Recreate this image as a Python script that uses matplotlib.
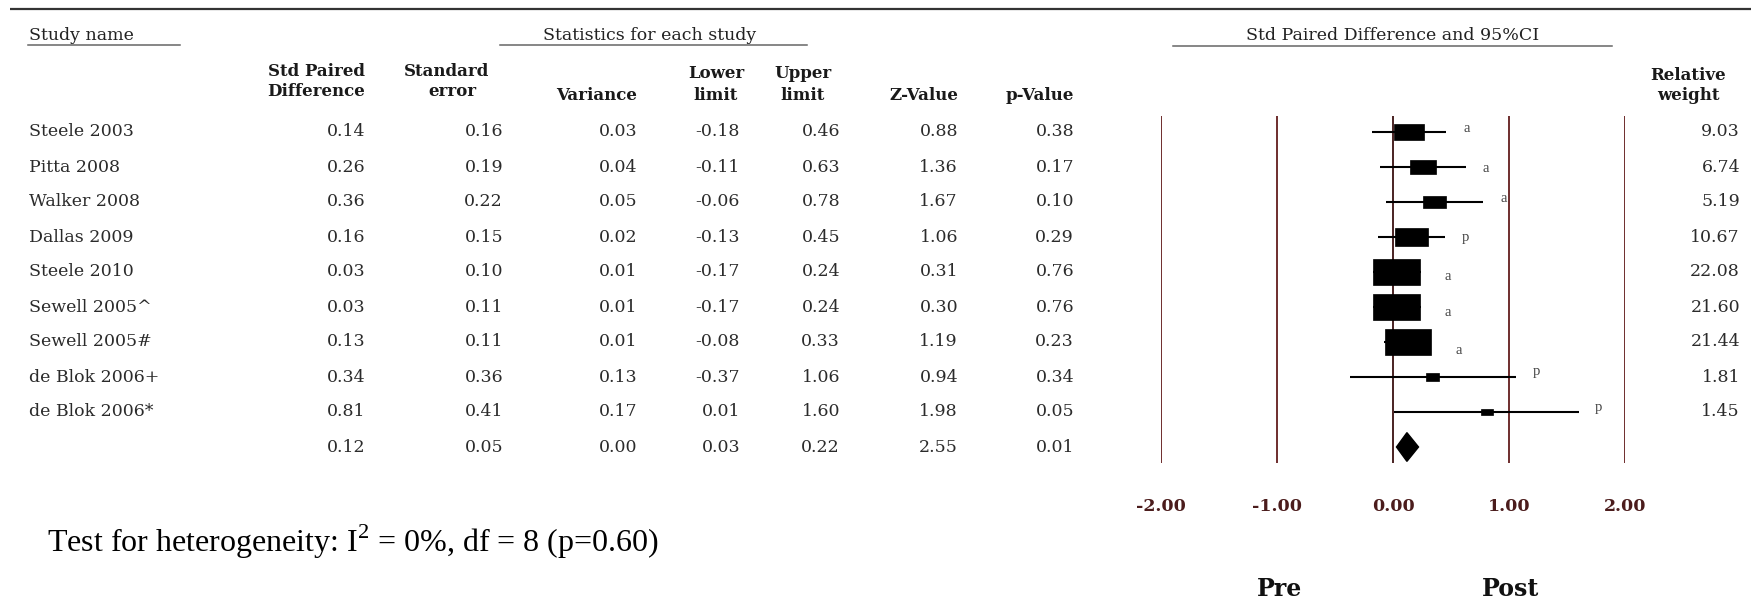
import numpy as np
import matplotlib
matplotlib.use("Agg")
import matplotlib.pyplot as plt
from matplotlib.patches import Rectangle, Polygon

plt.rcParams['mathtext.fontset'] = 'custom'
plt.rcParams['mathtext.rm'] = 'Liberation Serif'

# ---- data ----
studies = ['Steele 2003', 'Pitta 2008', 'Walker 2008', 'Dallas 2009', 'Steele 2010',
           'Sewell 2005^', 'Sewell 2005#', 'de Blok 2006+', 'de Blok 2006*']
spd = [0.14, 0.26, 0.36, 0.16, 0.03, 0.03, 0.13, 0.34, 0.81]
std_err = [0.16, 0.19, 0.22, 0.15, 0.10, 0.11, 0.11, 0.36, 0.41]
variance = [0.03, 0.04, 0.05, 0.02, 0.01, 0.01, 0.01, 0.13, 0.17]
lower = [-0.18, -0.11, -0.06, -0.13, -0.17, -0.17, -0.08, -0.37, 0.01]
upper = [0.46, 0.63, 0.78, 0.45, 0.24, 0.24, 0.33, 1.06, 1.60]
z_value = [0.88, 1.36, 1.67, 1.06, 0.31, 0.30, 1.19, 0.94, 1.98]
p_value = [0.38, 0.17, 0.10, 0.29, 0.76, 0.76, 0.23, 0.34, 0.05]
rel_weight = [9.03, 6.74, 5.19, 10.67, 22.08, 21.60, 21.44, 1.81, 1.45]
design = ['a', 'a', 'a', 'p', 'a', 'a', 'a', 'p', 'p']

# pooled row: spd, se, var, lower, upper, z, p
pooled = [0.12, 0.05, 0.00, 0.03, 0.22, 2.55, 0.01]

x_ticks = [-2, -1, 0, 1, 2]
heterogeneity = r'Test for heterogeneity: $\mathrm{I}^{2}$ = 0%, df = 8 (p=0.60)'

# ---- layout (pixels) ----
W, H = 1751, 605
row0, row_h = 132, 35
forest_left, forest_right = 1161, 1625
forest_top, forest_bottom = 116, 463

fig = plt.figure(figsize=(W / 100, H / 100), dpi=100)
ax = fig.add_axes([0, 0, 1, 1])
ax.set_xlim(0, W)
ax.set_ylim(H, 0)
ax.axis('off')

serif = 'DejaVu Serif'
val_kw = dict(family=serif, fontsize=12.5, color='#2b2b2b', va='center')
head_kw = dict(family=serif, fontsize=12, fontweight='bold', color='#1a1a1a', va='center')
title_kw = dict(family=serif, fontsize=12.5, color='#222222', va='center')

# top rule
ax.plot([10, W], [9, 9], color='#333333', lw=1.6, solid_capstyle='butt')

# section titles with underlines
ax.text(29, 35, 'Study name', ha='left', **title_kw)
ax.plot([28, 180], [45, 45], color='#666666', lw=1.1)
ax.text(650, 35, 'Statistics for each study', ha='center', **title_kw)
ax.plot([500, 807], [45, 45], color='#666666', lw=1.1)
ax.text(1393, 35, 'Std Paired Difference and 95%CI', ha='center', **title_kw)
ax.plot([1173, 1612], [46, 46], color='#666666', lw=1.1)

# column headers
ax.text(365, 72, 'Std Paired', ha='right', **head_kw)
ax.text(365, 91, 'Difference', ha='right', **head_kw)
ax.text(447, 72, 'Standard', ha='center', **head_kw)
ax.text(452, 92, 'error', ha='center', **head_kw)
ax.text(637, 95, 'Variance', ha='right', **head_kw)
ax.text(716, 74, 'Lower', ha='center', **head_kw)
ax.text(716, 95, 'limit', ha='center', **head_kw)
ax.text(803, 74, 'Upper', ha='center', **head_kw)
ax.text(803, 95, 'limit', ha='center', **head_kw)
ax.text(958, 95, 'Z-Value', ha='right', **head_kw)
ax.text(1074, 95, 'p-Value', ha='right', **head_kw)
ax.text(1688, 75, 'Relative', ha='center', **head_kw)
ax.text(1688, 95, 'weight', ha='center', **head_kw)

col_right = [365, 503, 637, 740, 840, 958, 1074]
columns = [spd, std_err, variance, lower, upper, z_value, p_value]

for i, name in enumerate(studies):
    y = row0 + i * row_h
    ax.text(29, y, name, ha='left', **val_kw)
    for xr, col in zip(col_right, columns):
        ax.text(xr, y, f'{col[i]:.2f}', ha='right', **val_kw)
    ax.text(1740, y, f'{rel_weight[i]:.2f}', ha='right', **val_kw)

y_pool = row0 + len(studies) * row_h
for xr, v in zip(col_right, pooled):
    ax.text(xr, y_pool, f'{v:.2f}', ha='right', **val_kw)

ax.text(47, 542, heterogeneity, ha='left', va='center',
        family='Liberation Serif', fontsize=23, color='black')

# ---- forest panel ----
fx = fig.add_axes([forest_left / W, 1 - forest_bottom / H,
                   (forest_right - forest_left) / W, (forest_bottom - forest_top) / H])
fx.set_xlim(-2, 2)
fx.set_ylim((forest_bottom - row0) / row_h, (forest_top - row0) / row_h)
for s in fx.spines.values():
    s.set_visible(False)
fx.set_yticks([])
fx.set_xticks(x_ticks)
fx.set_xticklabels([f'{t:.2f}' for t in x_ticks], family=serif, fontsize=12.5,
                   fontweight='bold', color='#4b1c1c')
fx.tick_params(axis='x', length=0, pad=25)
fx.patch.set_alpha(0)

for t in x_ticks:
    fx.axvline(t, color='#6e2d2d' if t != 0 else '#4a2323', lw=1.4, zorder=1)

px_x = (forest_right - forest_left) / 4.0   # pixels per unit on x
label_dy = [4, -1, 4, -1, -4, -6, -9, 6, 4]  # small vertical offsets of design letters (px)
for i in range(len(studies)):
    fx.plot([lower[i], upper[i]], [i, i], color='black', lw=1.5, zorder=2,
            solid_capstyle='butt')
    side = np.sqrt(rel_weight[i])
    bw = 10.0 * side / px_x
    bh = 5.6 * side / row_h
    fx.add_patch(Rectangle((spd[i] - bw / 2, i - bh / 2), bw, bh,
                           facecolor='black', edgecolor='black', lw=0.5, zorder=3))
    right = max(upper[i], spd[i] + bw / 2)
    dx = 27 if bw * px_x > 40 else 20
    fx.annotate(design[i], (right, i), xytext=(dx, label_dy[i]), textcoords='offset pixels',
                ha='center', va='center', family='Liberation Serif', fontsize=10.5,
                color='#444444', annotation_clip=False)

# pooled diamond
yp = len(studies)
fx.add_patch(Polygon([[pooled[3], yp], [pooled[0], yp - 0.41],
                      [pooled[4], yp], [pooled[0], yp + 0.41]],
                     closed=True, facecolor='black', edgecolor='black', zorder=3))

# direction labels
ax.text(1279, 589, 'Pre', ha='center', va='center', family=serif,
        fontsize=17, fontweight='bold', color='#111111')
ax.text(1510, 589, 'Post', ha='center', va='center', family=serif,
        fontsize=17, fontweight='bold', color='#111111')

fig.savefig('out.png', dpi=100)
